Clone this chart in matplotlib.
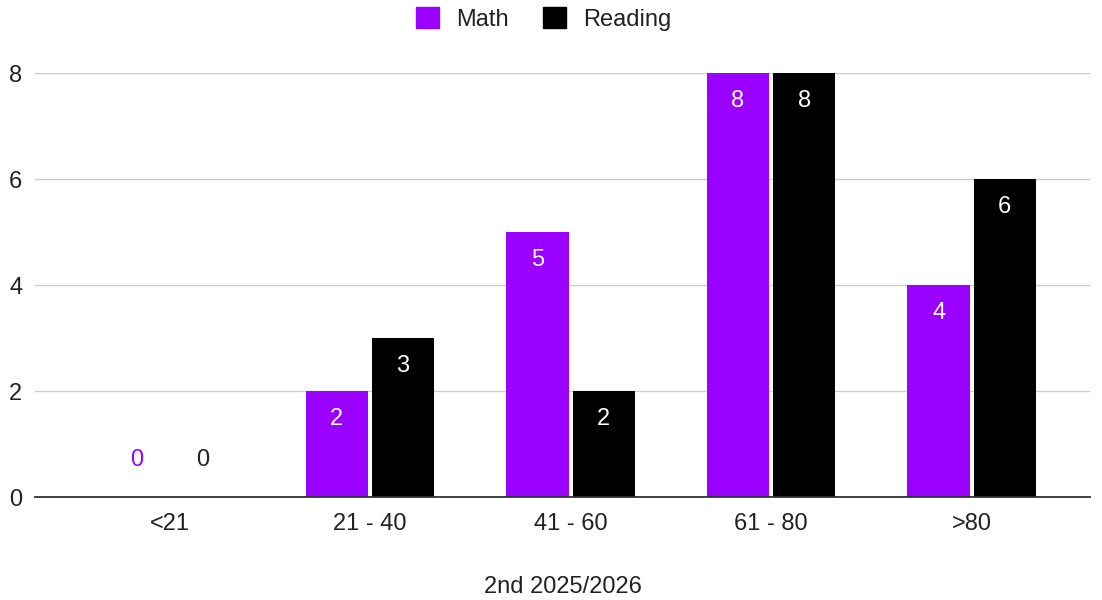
import matplotlib
matplotlib.use("Agg")
import matplotlib.pyplot as plt
from matplotlib.patches import Patch
import numpy as np

plt.rcParams['font.family'] = ['Liberation Sans', 'DejaVu Sans']

categories = ["<21", "21 - 40", "41 - 60", "61 - 80", ">80"]
math_vals = [0, 2, 5, 8, 4]
reading_vals = [0, 3, 2, 8, 6]
series_names = ["Math", "Reading"]
colors = ["#9900ff", "#000000"]
x_label = "2nd 2025/2026"

FS = 17

fig = plt.figure(figsize=(11.02, 6.0), dpi=100)
ax = fig.add_axes([35/1102, 1-497/600, (1090-35)/1102, (497-73)/600])

x = np.arange(len(categories))
w = 0.31
off = 0.165
for vals, c, o in [(math_vals, colors[0], -off), (reading_vals, colors[1], off)]:
    ax.bar(x + o, vals, width=w, color=c, zorder=3)
    for xi, v in zip(x + o, vals):
        if v > 0:
            ax.annotate(str(v), (xi, v), xytext=(0, -20), textcoords="offset points",
                        ha="center", va="center", color="white", fontsize=FS, zorder=4)
        else:
            ax.annotate(str(v), (xi, 0), xytext=(0, 26.3), textcoords="offset points",
                        ha="center", va="center", color=c if c != "#000000" else "#222222",
                        fontsize=FS, zorder=4)

ax.set_xlim(-0.67, 4.59)
ax.set_ylim(0, 8)
ax.set_yticks([0, 2, 4, 6, 8])
ax.set_xticks(x)
ax.set_xticklabels(categories)
ax.tick_params(axis="both", length=0, labelsize=FS, colors="#222222")
ax.tick_params(axis="x", pad=11.5)
ax.tick_params(axis="y", pad=18.7)
for lab in ax.get_yticklabels():
    lab.set_horizontalalignment("left")
ax.grid(axis="y", color="#cccccc", linewidth=1, zorder=0)
for s in ["top", "right", "left"]:
    ax.spines[s].set_visible(False)
ax.spines["bottom"].set_color("#333333")
ax.spines["bottom"].set_linewidth(1.3)
ax.spines["bottom"].set_zorder(5)
ax.set_xlabel(x_label, fontsize=FS, color="#222222", labelpad=29.5)

handles = [Patch(facecolor=c, edgecolor=c) for c in colors]
fig.legend(handles, series_names, loc="center", bbox_to_anchor=(0.4936, 1-19/600),
           ncol=2, frameon=False, fontsize=FS, handlelength=0.95, handleheight=0.95,
           columnspacing=1.44, handletextpad=0.76, labelcolor="#222222",
           borderpad=0)

fig.savefig("out.png", dpi=100)
